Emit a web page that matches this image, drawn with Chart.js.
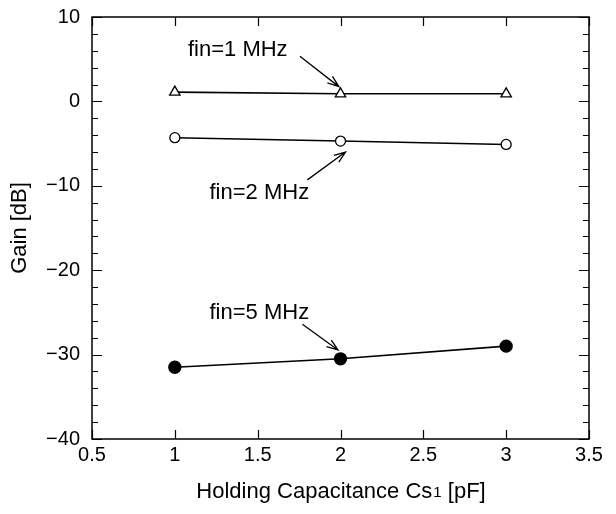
<!DOCTYPE html>
<html>
<head>
<meta charset="utf-8">
<script src="https://cdn.jsdelivr.net/npm/chart.js@4.4.1/dist/chart.umd.min.js"></script>
<style>
    html, body { margin: 0; padding: 0; background: #fff; }
    #wrap { width: 616px; height: 514px; }
</style>
</head>
<body>
<div id="wrap"><canvas id="gainChart"></canvas></div>
<script>
// Data
const capacitance = [1, 2, 3];               // Cs1 [pF]
const gain1MHz = [1.1, 0.9, 0.9];            // dB
const gain2MHz = [-4.3, -4.7, -5.1];
const gain5MHz = [-31.5, -30.5, -29.0];
const xTickValues = [0.5, 1, 1.5, 2, 2.5, 3, 3.5];
const yTickValues = [-40, -30, -20, -10, 0, 10];

// Labels with arrows (data coordinates)
const callouts = [
    { text: 'fin=1 MHz', at: [1.38, 6.1], from: [1.755, 5.35], to: [1.99, 1.75] },
    { text: 'fin=2 MHz', at: [1.51, -10.85], from: [1.80, -9.3], to: [2.03, -6.0] },
    { text: 'fin=5 MHz', at: [1.51, -25.1], from: [1.77, -26.4], to: [1.985, -29.45] }
];

const FONT = '"Liberation Sans", Arial, sans-serif';

function toPoints(ys) {
    return capacitance.map((x, i) => ({ x: x, y: ys[i] }));
}

const framePlugin = {
    id: 'frame',
    afterDraw(chart) {
        const ctx = chart.ctx;
        const area = chart.chartArea;
        const xs = chart.scales.x;
        const ys = chart.scales.y;
        ctx.save();
        ctx.strokeStyle = '#000';
        ctx.lineWidth = 1.5;
        ctx.strokeRect(area.left, area.top, area.right - area.left, area.bottom - area.top);

        // inward ticks
        ctx.lineWidth = 1.2;
        ctx.beginPath();
        xTickValues.forEach(v => {
            const px = Math.round(xs.getPixelForValue(v)) + 0.5;
            ctx.moveTo(px, area.bottom); ctx.lineTo(px, area.bottom - 9);
            ctx.moveTo(px, area.top); ctx.lineTo(px, area.top + 9);
        });
        for (let v = -40; v <= 10; v += 2) {
            const py = Math.round(ys.getPixelForValue(v)) + 0.5;
            const len = (v % 10 === 0) ? 10 : 6;
            ctx.moveTo(area.left, py); ctx.lineTo(area.left + len, py);
            ctx.moveTo(area.right, py); ctx.lineTo(area.right - len, py);
        }
        ctx.stroke();

        // callouts
        ctx.fillStyle = '#000';
        ctx.font = '22px ' + FONT;
        ctx.textAlign = 'center';
        ctx.textBaseline = 'middle';
        callouts.forEach(c => {
            ctx.fillText(c.text, xs.getPixelForValue(c.at[0]), ys.getPixelForValue(c.at[1]));
            const x1 = xs.getPixelForValue(c.from[0]), y1 = ys.getPixelForValue(c.from[1]);
            const x2 = xs.getPixelForValue(c.to[0]), y2 = ys.getPixelForValue(c.to[1]);
            const ang = Math.atan2(y2 - y1, x2 - x1);
            ctx.lineWidth = 1.3;
            ctx.beginPath();
            ctx.moveTo(x1, y1); ctx.lineTo(x2, y2);
            ctx.moveTo(x2 - 12 * Math.cos(ang - 0.35), y2 - 12 * Math.sin(ang - 0.35));
            ctx.lineTo(x2, y2);
            ctx.lineTo(x2 - 12 * Math.cos(ang + 0.35), y2 - 12 * Math.sin(ang + 0.35));
            ctx.stroke();
        });

        // axis titles
        ctx.save();
        ctx.translate(20, (area.top + area.bottom) / 2);
        ctx.rotate(-Math.PI / 2);
        ctx.font = '22px ' + FONT;
        ctx.fillText('Gain [dB]', 0, 0);
        ctx.restore();

        const partA = 'Holding Capacitance Cs';
        const partB = '1';
        const partC = ' [pF]';
        ctx.font = '22px ' + FONT;
        const wA = ctx.measureText(partA).width;
        const wC = ctx.measureText(partC).width;
        ctx.font = '15px ' + FONT;
        const wB = ctx.measureText(partB).width;
        const total = wA + wB + wC;
        let tx = (area.left + area.right) / 2 - total / 2;
        const ty = 490;
        ctx.textAlign = 'left';
        ctx.textBaseline = 'alphabetic';
        ctx.font = '22px ' + FONT;
        ctx.fillText(partA, tx, ty + 8);
        tx += wA;
        ctx.font = '15px ' + FONT;
        ctx.fillText(partB, tx + 1, ty + 7);
        tx += wB + 1;
        ctx.font = '22px ' + FONT;
        ctx.fillText(partC, tx, ty + 8);
        ctx.restore();
    }
};

const lineStyle = {
    borderColor: '#000',
    borderWidth: 1.6,
    showLine: true,
    tension: 0,
    pointBorderColor: '#000',
    pointBorderWidth: 1.3
};

new Chart(document.getElementById('gainChart'), {
    type: 'scatter',
    data: {
        datasets: [
            Object.assign({}, lineStyle, {
                label: 'fin=1 MHz',
                data: toPoints(gain1MHz),
                pointStyle: 'triangle',
                pointRadius: 6,
                pointBackgroundColor: '#fff'
            }),
            Object.assign({}, lineStyle, {
                label: 'fin=2 MHz',
                data: toPoints(gain2MHz),
                pointStyle: 'circle',
                pointRadius: 5,
                pointBackgroundColor: '#fff'
            }),
            Object.assign({}, lineStyle, {
                label: 'fin=5 MHz',
                data: toPoints(gain5MHz),
                pointStyle: 'circle',
                pointRadius: 6,
                pointBackgroundColor: '#000'
            })
        ]
    },
    options: {
        responsive: true,
        maintainAspectRatio: false,
        animation: false,
        layout: { padding: { top: 17, right: 27, left: 0, bottom: 0 } },
        plugins: {
            legend: { display: false },
            tooltip: { enabled: false }
        },
        scales: {
            x: {
                type: 'linear',
                min: 0.5,
                max: 3.5,
                afterBuildTicks: s => { s.ticks = xTickValues.map(v => ({ value: v })); },
                afterFit: s => { s.height = 75; s.paddingLeft = 0; s.paddingRight = 0; },
                grid: { display: false, drawTicks: false },
                border: { display: false },
                ticks: {
                    color: '#000',
                    padding: 4,
                    maxRotation: 0,
                    font: { family: FONT, size: 20 },
                    callback: v => String(v)
                }
            },
            y: {
                type: 'linear',
                min: -40,
                max: 10,
                afterBuildTicks: s => { s.ticks = yTickValues.map(v => ({ value: v })); },
                afterFit: s => { s.width = 92; s.paddingTop = 0; s.paddingBottom = 0; },
                grid: { display: false, drawTicks: false },
                border: { display: false },
                ticks: {
                    color: '#000',
                    padding: 12,
                    font: { family: FONT, size: 20 },
                    callback: v => (v < 0 ? '\u2212' + Math.abs(v) : String(v))
                }
            }
        }
    },
    plugins: [framePlugin]
});
</script>
</body>
</html>
